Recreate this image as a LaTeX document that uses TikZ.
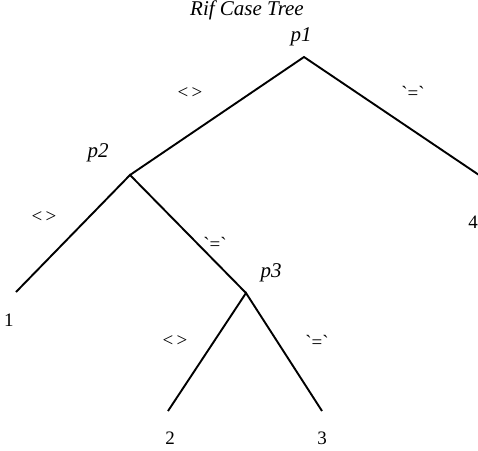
\documentclass[tikz,border=0pt]{standalone}
\usepackage{fontspec}
\setmainfont{Liberation Serif}
\usetikzlibrary{calc}

\begin{document}
\begin{tikzpicture}[x=1pt,y=-1pt,
  lbl/.style={inner sep=0pt,font=\fontsize{19}{21}\selectfont},
  tlbl/.style={lbl,font=\fontsize{21}{23}\selectfont\itshape},
  edge/.style={line width=1.9pt}]
\useasboundingbox (0,0) rectangle (478,450);
% % title
 \node[tlbl] (title) at (247,10) {Rif Case Tree};
% % decision points
 \coordinate (p1) at (304,57);
 \coordinate (p2) at (130,175);
 \coordinate (p3) at (246,293);
 \node[tlbl] (p1lbl) at (301,37) {p1};
 \node[tlbl] (p2lbl) at (98,153) {p2};
 \node[tlbl] (p3lbl) at (271,273) {p3};
% % leaves
 \coordinate (l1) at (16,292);
 \coordinate (l2) at (168,411);
 \coordinate (l3) at (322,411);
 \coordinate (l4) at (479,175);
 \node[lbl] (one) at (9,320) {1};
 \node[lbl] (two) at (170,438) {2};
 \node[lbl] (three) at (322,438) {3};
 \node[lbl,anchor=east] (four) at (478,222) {4};
% % branches
 \draw[edge] (p2) -- (p1) -- (l4);
 \draw[edge] (l1) -- (p2) -- (p3);
 \draw[edge] (l2) -- (p3) -- (l3);
% % branch labels
 \node[lbl] (ne1) at (190,93) {<\,>};
 \node[lbl] (eq1) at (413,93) {\textasciigrave=\textasciigrave};
 \node[lbl] (ne2) at (44,217) {<\,>};
 \node[lbl] (eq2) at (215,244) {\textasciigrave=\textasciigrave};
 \node[lbl] (ne3) at (175,341) {<\,>};
 \node[lbl] (eq3) at (317,342) {\textasciigrave=\textasciigrave};
\end{tikzpicture}
\end{document}
